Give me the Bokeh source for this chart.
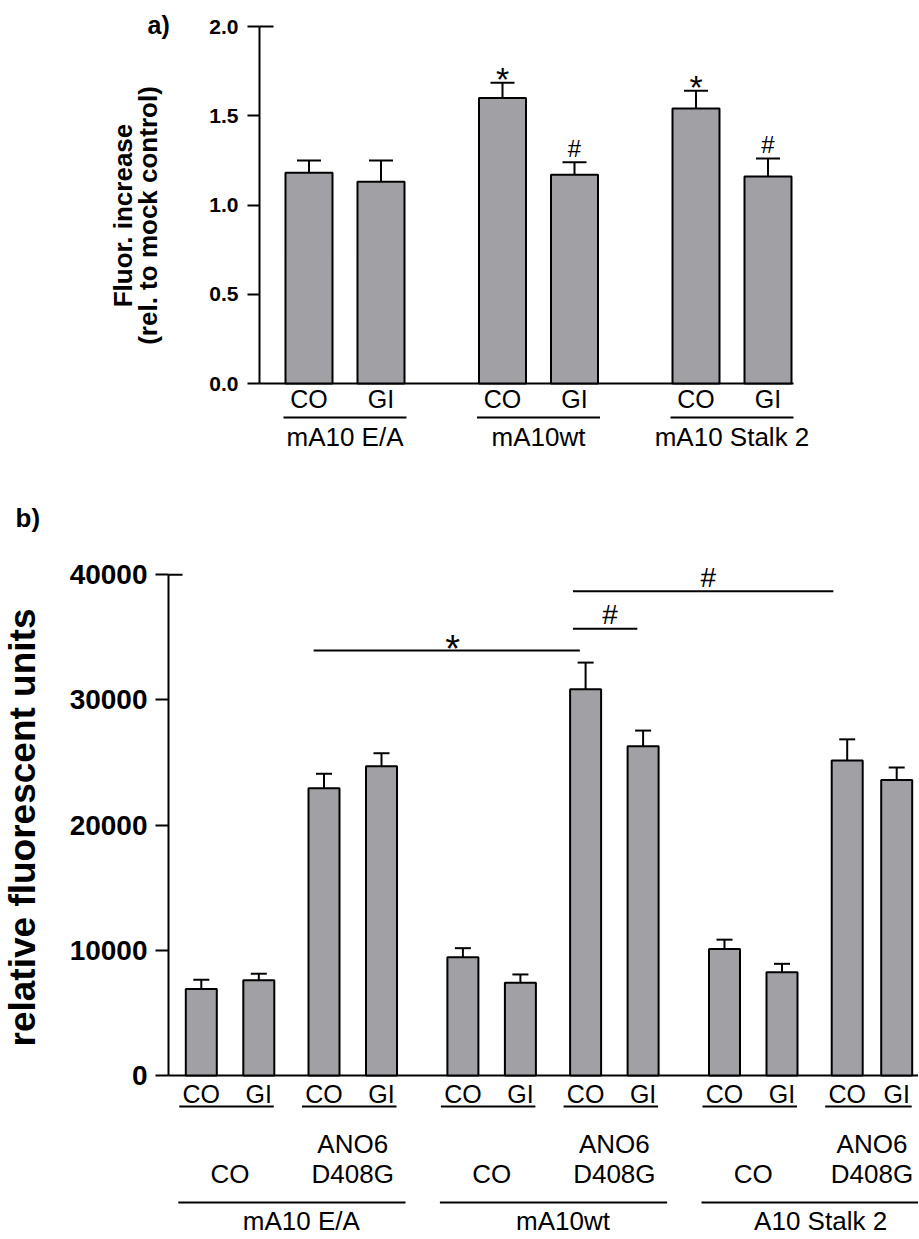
import math
from bokeh.plotting import figure
from bokeh.layouts import column
from bokeh.models import Range1d, FixedTicker, PrintfTickFormatter
from bokeh.core.properties import value
from bokeh.embed import file_html
from bokeh.resources import INLINE

FONT = "Liberation Sans"
FILL = "#a1a1a5"
W = 918
BASE_SHIFT = 0.36   # empirical baseline correction (fraction of font size)

# ---------------- data: panel a ----------------
a_groups = ["mA10 E/A", "mA10wt", "mA10 Stalk 2"]
a_treat = ["CO", "GI"]
a_mean = [1.18, 1.13, 1.60, 1.17, 1.54, 1.16]
a_sem = [0.07, 0.12, 0.085, 0.07, 0.10, 0.10]
a_marks = ["", "", "*", "#", "*", "#"]
a_ticks = [0.0, 0.5, 1.0, 1.5, 2.0]
a_ylabel = ["Fluor. increase", "(rel. to mock control)"]

# ---------------- data: panel b ----------------
b_groups = ["mA10 E/A", "mA10wt", "A10 Stalk 2"]
b_sub = ["CO", "ANO6\nD408G"]
b_treat = ["CO", "GI"]
b_mean = [6900, 7600, 22950, 24700, 9450, 7400, 30850, 26300, 10100, 8250, 25150, 23600]
b_sem = [750, 530, 1150, 1040, 720, 670, 2130, 1250, 750, 670, 1700, 1000]
b_ticks = [0, 10000, 20000, 30000, 40000]
b_ylabel = "relative fluorescent units"
# significance: (from bar, to bar, level, symbol)
b_sig = [(2, 6, 33950, "*"), (6, 7, 35680, "#"), (6, 10, 38680, "#")]


def off(d, size):
    """pixel offset that puts the alphabetic baseline d px below the anchor"""
    return d - BASE_SHIFT * size


def style_yaxis(ax, ticks, fmt, top, size, tick_out, standoff, loc):
    ax.fixed_location = loc
    ax.ticker = FixedTicker(ticks=ticks)
    ax.formatter = PrintfTickFormatter(format=fmt)
    ax.bounds = (0, top)
    ax.axis_line_width = 2
    ax.axis_line_color = "black"
    ax.major_tick_line_width = 2
    ax.major_tick_line_color = "black"
    ax.major_tick_in = 0
    ax.major_tick_out = tick_out
    ax.minor_tick_line_color = None
    ax.major_label_text_font = FONT
    ax.major_label_text_font_size = size
    ax.major_label_text_font_style = "bold"
    ax.major_label_text_color = "black"
    ax.major_label_standoff = standoff
    ax.axis_label = None


def base_fig(h, xr, yr):
    p = figure(width=W, height=h, x_range=Range1d(*xr), y_range=Range1d(*yr),
               output_backend="svg", toolbar_location=None, x_axis_location=None,
               title=None, min_border_left=0, min_border_right=0,
               min_border_top=0, min_border_bottom=0)
    p.xgrid.visible = False
    p.ygrid.visible = False
    p.outline_line_color = None
    p.background_fill_color = "white"
    p.border_fill_color = "white"
    return p


TXT = dict(text_font=value(FONT), text_color="black", text_align="center",
           text_baseline="alphabetic")
BTXT = dict(TXT, text_font_style="bold")

# ================= panel a =================
PXA, PYA = 72.0, 178.5          # px per x unit / px per y unit
GA = 193.5 / PXA
HA = 460
xa = [g * GA + i for g in range(len(a_groups)) for i in range(len(a_treat))]
xs_a = -308.5 / PXA
ya1 = 383 / PYA
axis_a = -49.5 / PXA

pa = base_fig(HA, (xs_a, xs_a + W / PXA), (ya1 - HA / PYA, ya1))
style_yaxis(pa.yaxis[0], a_ticks, "%.1f", 2.0, "21px", 12, 9, axis_a)

# inner half of the top tick
pa.segment(x0=[axis_a], y0=[2.0], x1=[axis_a + 14 / PXA], y1=[2.0], line_color="black", line_width=2)
# baseline
pa.segment(x0=[axis_a], y0=[0], x1=[xa[-1] + 25.5 / PXA], y1=[0], line_color="black", line_width=2)

pa.vbar(x=xa, top=a_mean, bottom=0, width=47 / PXA, fill_color=FILL,
        line_color="black", line_width=2)
a_cap = [m + s for m, s in zip(a_mean, a_sem)]
pa.segment(x0=xa, y0=a_mean, x1=xa, y1=a_cap, line_color="black", line_width=2)
hc = 12 / PXA
pa.segment(x0=[x - hc for x in xa], y0=a_cap, x1=[x + hc for x in xa], y1=a_cap,
           line_color="black", line_width=2)

star_x = [x for x, m in zip(xa, a_marks) if m == "*"]
star_y = [c for c, m in zip(a_cap, a_marks) if m == "*"]
hash_x = [x for x, m in zip(xa, a_marks) if m == "#"]
hash_y = [c for c, m in zip(a_cap, a_marks) if m == "#"]
pa.text(x=star_x, y=star_y, text=["*"] * len(star_x), text_font_size="34px",
        y_offset=-6.5 + 0.09 * 34, **TXT)
pa.text(x=hash_x, y=hash_y, text=["#"] * len(hash_x), text_font_size="24px",
        y_offset=off(-5, 24), **TXT)

# category labels
pa.text(x=xa, y=[0] * len(xa), text=a_treat * len(a_groups), text_font_size="25px",
        y_offset=off(24, 25), **TXT)
centers_a = [(xa[2 * g] + xa[2 * g + 1]) / 2 for g in range(len(a_groups))]
ul = 61.5 / PXA
pa.segment(x0=[c - ul for c in centers_a], y0=[-34 / PYA] * 3,
           x1=[c + ul for c in centers_a], y1=[-34 / PYA] * 3, line_color="black", line_width=2)
pa.text(x=centers_a, y=[0] * 3, text=a_groups, text_font_size="26px", y_offset=off(63, 26), **TXT)

# y title (two lines, rotated)
ya_mid = (383 - 215) / PYA
for ln, bx in zip(a_ylabel, [132, 157]):
    pa.text(x=[(bx - BASE_SHIFT * 26 - 308.5) / PXA], y=[ya_mid], text=[ln], angle=math.pi / 2,
            text_font_size="26px", **BTXT)

# panel letter
pa.text(x=[(147 - 308.5) / PXA], y=[(383 - 33) / PYA], text=["a)"], text_font_size="25px",
        y_offset=off(0, 25), **dict(BTXT, text_align="left"))

# ================= panel b =================
PXB, PYB = 57.5, 125.2 / 10000.0
GB, SB = 261.6 / PXB, 122.7 / PXB
HB = 778
xb = []
for g in range(len(b_groups)):
    for s in range(len(b_sub)):
        step = 49.5 / PXB if (g == len(b_groups) - 1 and s == len(b_sub) - 1) else 1.0
        for i in range(len(b_treat)):
            xb.append(g * GB + s * SB + i * step)
xs_b = -200.8 / PXB
xe_b = xs_b + W / PXB
yb1 = (1075 - 460) / PYB
axis_b = (168 - 200.8) / PXB

pb = base_fig(HB, (xs_b, xe_b), (yb1 - HB / PYB, yb1))
style_yaxis(pb.yaxis[0], b_ticks, "%d", 40000, "28px", 13, 8, axis_b)

pb.segment(x0=[axis_b], y0=[40000], x1=[axis_b + 14 / PXB], y1=[40000], line_color="black", line_width=2)
pb.segment(x0=[axis_b], y0=[0], x1=[xe_b], y1=[0], line_color="black", line_width=2)

pb.vbar(x=xb, top=b_mean, bottom=0, width=31 / PXB, fill_color=FILL,
        line_color="black", line_width=2)
b_cap = [m + s for m, s in zip(b_mean, b_sem)]
pb.segment(x0=xb, y0=b_mean, x1=xb, y1=b_cap, line_color="black", line_width=2)
hcb = 8 / PXB
pb.segment(x0=[x - hcb for x in xb], y0=b_cap, x1=[x + hcb for x in xb], y1=b_cap,
           line_color="black", line_width=2)

# significance lines
sig_start = [-0.18, -0.22, -0.22]
sig_end = [-0.10, -0.10, -0.24]
sx0 = [xb[a] + o for (a, _, _, _), o in zip(b_sig, sig_start)]
sx1 = [xb[b] + o for (_, b, _, _), o in zip(b_sig, sig_end)]
sy = [lv for (_, _, lv, _) in b_sig]
pb.segment(x0=sx0, y0=sy, x1=sx1, y1=sy, line_color="black", line_width=2)
for x0, x1, y, (_, _, _, sym) in zip(sx0, sx1, sy, b_sig):
    if sym == "*":
        pb.text(x=[(x0 + x1) / 2], y=[y], text=[sym], text_font_size="38px",
                x_offset=6, y_offset=-5 + 0.09 * 38, **TXT)
    else:
        pb.text(x=[(x0 + x1) / 2], y=[y], text=[sym], text_font_size="28px",
                x_offset=5, y_offset=off(-4, 28), **TXT)

# treatment labels + underlines
pb.text(x=xb, y=[0] * len(xb), text=b_treat * (len(b_groups) * len(b_sub)),
        text_font_size="25px", y_offset=off(27, 25), **TXT)
ul0 = [xb[2 * k] - 22 / PXB for k in range(6)]
ul1 = [xb[2 * k + 1] + 15 / PXB for k in range(6)]
pb.segment(x0=ul0, y0=[-31 / PYB] * 6, x1=ul1, y1=[-31 / PYB] * 6,
           line_color="black", line_width=2)

# sub-group labels (multi-line, drawn bottom up)
sub_x, sub_t, sub_o = [], [], []
for k in range(6):
    c = (xb[2 * k] + xb[2 * k + 1]) / 2
    lines = b_sub[k % 2].split("\n")
    for j, ln in enumerate(reversed(lines)):
        sub_x.append(c)
        sub_t.append(ln)
        sub_o.append(off(108 - 30 * j, 26))
pb.text(x=sub_x, y=[0] * len(sub_x), text=sub_t, text_font_size="26px", y_offset=sub_o, **TXT)

# group lines + labels
g0 = [xb[4 * g] - 23 / PXB for g in range(3)]
g1 = [xb[4 * g + 3] + 24 / PXB for g in range(3)]
pb.segment(x0=g0, y0=[-127 / PYB] * 3, x1=g1, y1=[-127 / PYB] * 3,
           line_color="black", line_width=2)
gc = [(a + b) / 2 + 9.5 / PXB for a, b in zip(g0, g1)]
pb.text(x=gc, y=[0] * 3, text=b_groups, text_font_size="26px", y_offset=off(155, 26), **TXT)

# y title
pb.text(x=[(35 - BASE_SHIFT * 37 - 200.8) / PXB], y=[(1075 - 827) / 125.2 * 10000],
        text=[b_ylabel], angle=math.pi / 2, text_font_size="37px", **BTXT)

# panel letter
pb.text(x=[(15 - 200.8) / PXB], y=[(1075 - 527) / 125.2 * 10000], text=["b)"],
        text_font_size="26px", y_offset=off(0, 26), **dict(BTXT, text_align="left"))

layout = column(pa, pb, spacing=0)
open("out.html", "w").write(file_html(layout, INLINE))
